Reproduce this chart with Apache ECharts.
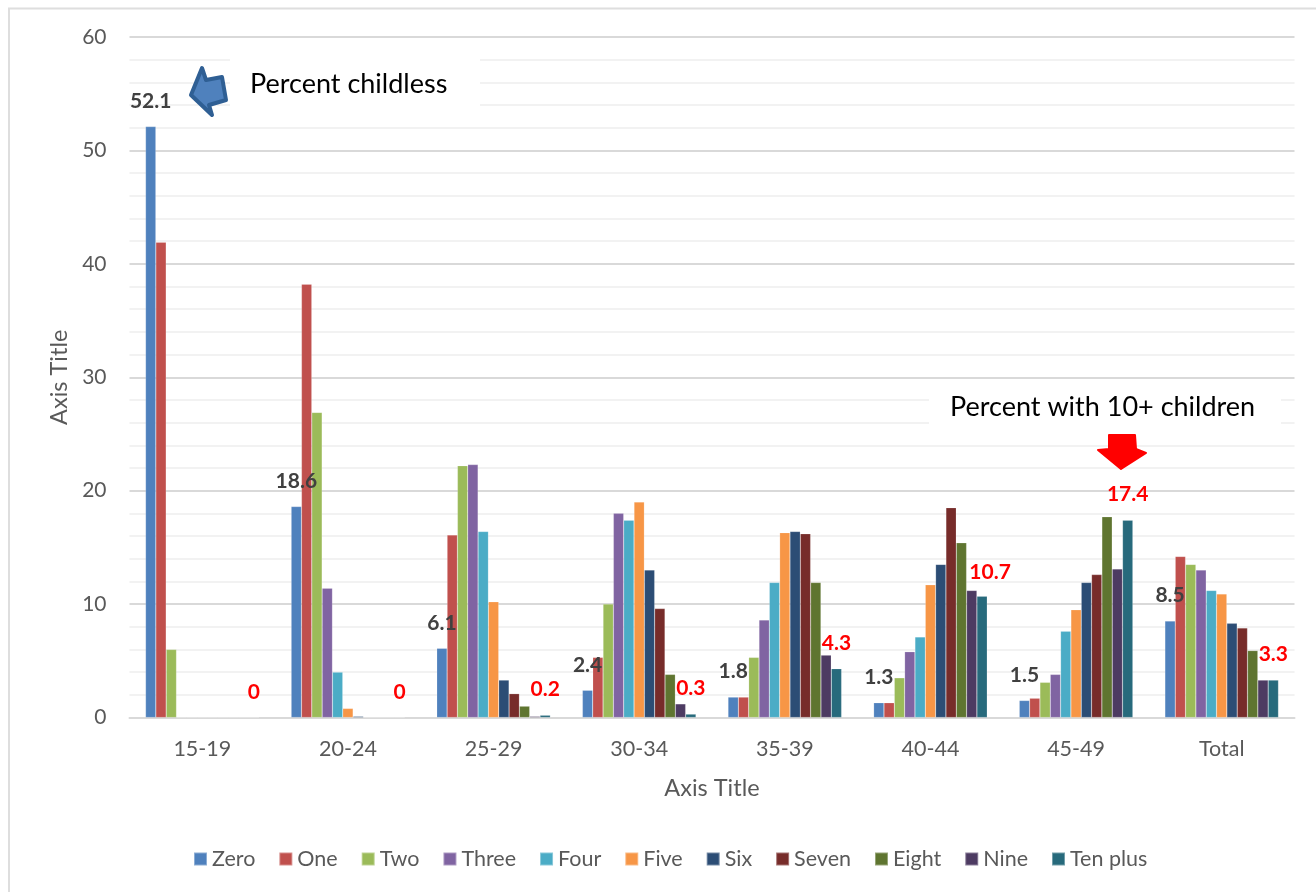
<!DOCTYPE html>
<html>
<head>
<meta charset="utf-8">
<style>html,body{margin:0;padding:0;background:#fff}#chart{width:1316px;height:892px}</style>
<script src="https://cdn.jsdelivr.net/npm/echarts@6/dist/echarts.min.js"></script>
</head>
<body>
<div id="chart"></div>
<script>
// Percent distribution of women by number of children, per age group
const ageGroups = ['15-19','20-24','25-29','30-34','35-39','40-44','45-49','Total'];
const zero    = [52.1,18.6,6.1,2.4,1.8,1.3,1.5,8.5];
const one     = [41.9,38.2,16.1,5.3,1.8,1.3,1.7,14.2];
const two     = [6.0,26.9,22.2,10.0,5.3,3.5,3.1,13.5];
const three   = [0,11.4,22.3,18.0,8.6,5.8,3.8,13.0];
const four    = [0,4.0,16.4,17.4,11.9,7.1,7.6,11.2];
const five    = [0,0.8,10.2,19.0,16.3,11.7,9.5,10.9];
const six     = [0,0.1,3.3,13.0,16.4,13.5,11.9,8.3];
const seven   = [0,0,2.1,9.6,16.2,18.5,12.6,7.9];
const eight   = [0,0,1.0,3.8,11.9,15.4,17.7,5.9];
const nine    = [0,0,0.1,1.2,5.5,11.2,13.1,3.3];
const tenPlus = [0,0,0.2,0.3,4.3,10.7,17.4,3.3];

const seriesNames = ['Zero','One','Two','Three','Four','Five','Six','Seven','Eight','Nine','Ten plus'];
const seriesValues = [zero,one,two,three,four,five,six,seven,eight,nine,tenPlus];
const seriesColors = ['#4f81bd','#c0504d','#9bbb59','#8064a2','#4bacc6','#f79646','#2c4d75','#772c2a','#5f7530','#4d3b62','#276a7c'];

const uiFont = 'Lato, "Open Sans", sans-serif';
const labelFor = (color, i) => ({
  show: true, position: 'top', distance: 15,
  color: color, fontFamily: uiFont, fontWeight: 'bold', fontSize: 21,
  offset: i === 5 && color !== '#404040' ? [8, 2] : [0, 0]
});

const series = seriesNames.map((name, s) => ({
  name, type: 'bar',
  barGap: 0, barCategoryGap: '22%',
  itemStyle: {color: seriesColors[s], borderColor: 'rgba(255,255,255,0.35)', borderWidth: 0.5},
  data: seriesValues[s].map((v, i) => {
    if (s === 0) return {value: v, label: labelFor('#404040', i)};
    if (s === 10) return {value: v, label: labelFor('#ff0000', i)};
    return v;
  }),
  z: 3
}));

const chart = echarts.init(document.getElementById('chart'), null, {renderer: 'canvas'});
chart.setOption({
  animation: false,
  backgroundColor: '#fff',
  grid: {left: 129.5, right: 21.5, top: 37, bottom: 174.5, containLabel: false},
  legend: {
    left: 193, top: 848, padding: 0, itemWidth: 13, itemHeight: 13, itemGap: 23,
    icon: 'rect',
    textStyle: {color: '#595959', fontFamily: uiFont, fontSize: 21.5, padding: [0,0,0,0]},
    data: seriesNames
  },
  xAxis: {
    type: 'category', data: ageGroups,
    name: 'Axis Title', nameLocation: 'middle', nameGap: 59,
    nameTextStyle: {color: '#595959', fontFamily: uiFont, fontSize: 23.5},
    axisLine: {lineStyle: {color: '#d9d9d9', width: 2}},
    axisTick: {show: false},
    axisLabel: {color: '#595959', fontFamily: uiFont, fontSize: 21.5, margin: 21}
  },
  yAxis: {
    type: 'value', min: 0, max: 60, interval: 10,
    name: 'Axis Title', nameLocation: 'middle', nameGap: 51, nameRotate: 90,
    nameTextStyle: {color: '#595959', fontFamily: uiFont, fontSize: 23.5},
    axisLine: {show: false}, axisTick: {show: false},
    axisLabel: {color: '#595959', fontFamily: uiFont, fontSize: 21, margin: 23},
    splitLine: {lineStyle: {color: '#d9d9d9', width: 2}},
    minorTick: {show: false, splitNumber: 5},
    minorSplitLine: {show: true, lineStyle: {color: '#f2f2f2', width: 2}}
  },
  series,
  graphic: [
    {type: 'rect', z: 0, silent: true, shape: {x: 9, y: 8.5, width: 1330, height: 900},
     style: {fill: 'none', stroke: '#dedede', lineWidth: 2}},
    {type: 'rect', z: 5, shape: {x: 230, y: 58, width: 250, height: 52}, style: {fill: '#fff'}},
    {type: 'rect', z: 5, shape: {x: 929, y: 379, width: 352, height: 48}, style: {fill: '#fff'}},
    {type: 'text', z: 6, x: 250, y: 71, style: {text: 'Percent childless', fill: '#000', font: '27px ' + uiFont}},
    {type: 'text', z: 6, x: 950, y: 394, style: {text: 'Percent with 10+ children', fill: '#000', font: '27px ' + uiFont}},
    {type: 'polygon', z: 6,
     shape: {points: [[202,68],[206,80],[222,77],[226,100],[209,105],[212,115],[191,95]]},
     style: {fill: '#4f81bd', stroke: '#2f5f94', lineWidth: 4, lineJoin: 'round'}},
    {type: 'polygon', z: 6,
     shape: {points: [[1109,435],[1135,435],[1136,449],[1146,453],[1121,469],[1098,450],[1109,449]]},
     style: {fill: '#ff0000', stroke: '#ff0000', lineWidth: 2, lineJoin: 'round'}}
  ]
});
</script>
</body>
</html>
